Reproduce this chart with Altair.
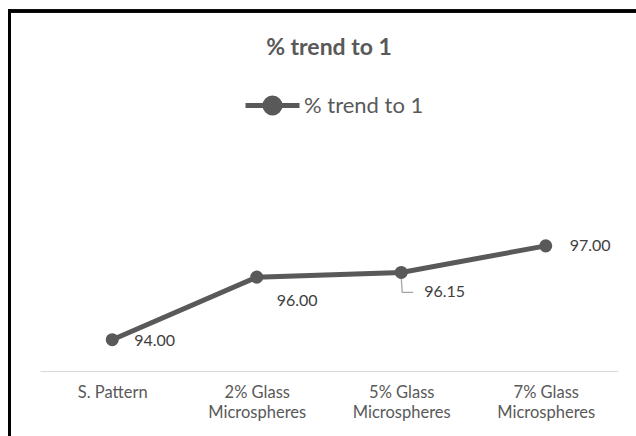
import altair as alt
import pandas as pd

categories = ["S. Pattern", "2% Glass Microspheres", "5% Glass Microspheres", "7% Glass Microspheres"]
values = [94.00, 96.00, 96.15, 97.00]
labels = ["94.00", "96.00", "96.15", "97.00"]
series_name = "% trend to 1"

df = pd.DataFrame({
    "cat": categories,
    "val": values,
    "lab": labels,
    "series": [series_name] * len(categories),
})

GRAY = "#595959"
FONT = "Lato"
LEFT, TOP = 40, 152

x_enc = alt.X(
    "cat:N", sort=categories, title=None,
    scale=alt.Scale(type="point", padding=0.5),
    axis=alt.Axis(
        domainColor="#D9D9D9", domainWidth=1.2, ticks=False, labelAngle=0,
        labelColor=GRAY, labelFontSize=16.5, labelFont=FONT, labelPadding=21,
        labelLineHeight=20, labelBaseline="middle",
        labelExpr="indexof(datum.label, ' Microspheres') > 0 ? [replace(datum.label, ' Microspheres', ''), 'Microspheres'] : datum.label",
    ),
)
y_enc = alt.Y("val:Q", scale=alt.Scale(domain=[93, 100], zero=False, nice=False), axis=None)

color_enc = alt.Color(
    "series:N", scale=alt.Scale(range=[GRAY]), title=None,
    legend=alt.Legend(
        orient="none", legendX=243 - LEFT, legendY=103 - 27 - TOP, padding=0,
        symbolType="M-1,0 L1,0 M-0.28,0 A0.28,0.28 0 1,1 0.28,0 A0.28,0.28 0 1,1 -0.28,0 Z",
        symbolSize=2916, symbolStrokeWidth=5, symbolFillColor=GRAY, symbolStrokeColor=GRAY,
        labelFont=FONT, labelFontSize=22, labelColor=GRAY, labelOffset=2,
    ),
)

base = alt.Chart(df)

line = base.mark_line(strokeWidth=5, color=GRAY).encode(x=x_enc, y=y_enc, color=color_enc)
pts = base.mark_point(filled=True, size=170, opacity=1, color=GRAY).encode(x=x_enc, y=y_enc)

leader = base.transform_filter(alt.datum.lab == "96.15").mark_point(
    shape="M0,0.25 L0.05,1 L0.6,1", filled=False, size=1600, stroke="#A6A6A6", strokeWidth=1.3, opacity=1
).encode(x=x_enc, y=y_enc)

def label_layer(lab, dx, dy):
    return base.transform_filter(alt.datum.lab == lab).mark_text(
        align="left", baseline="middle", dx=dx, dy=dy, fontSize=16, font=FONT, color="#404040"
    ).encode(x=x_enc, y=y_enc, text="lab:N")

texts = [
    label_layer("94.00", 22, 1),
    label_layer("96.00", 20, 24),
    label_layer("96.15", 23, 20),
    label_layer("97.00", 24, 0),
]

border_top = base.mark_rule(color="black", strokeWidth=3).encode(
    x=alt.value(8 - LEFT), x2=alt.value(640 - LEFT), y=alt.value(11 - TOP)
)
border_left = base.mark_rule(color="black", strokeWidth=3).encode(
    x=alt.value(9.5 - LEFT), y=alt.value(9.5 - TOP), y2=alt.value(440 - TOP)
)

chart = alt.layer(line, leader, pts, *texts, border_top, border_left).properties(
    width=578, height=219,
    title=alt.TitleParams(series_name, font=FONT, fontSize=23, fontWeight="bold", color=GRAY,
                          anchor="middle", offset=-52),
    autosize=alt.AutoSizeParams(type="none"),
    padding={"left": LEFT, "top": TOP, "right": 636 - LEFT - 578, "bottom": 436 - TOP - 219},
    background="white",
).configure_view(stroke=None)

chart.save("out.html", embed_options={"renderer": "svg", "actions": False})
